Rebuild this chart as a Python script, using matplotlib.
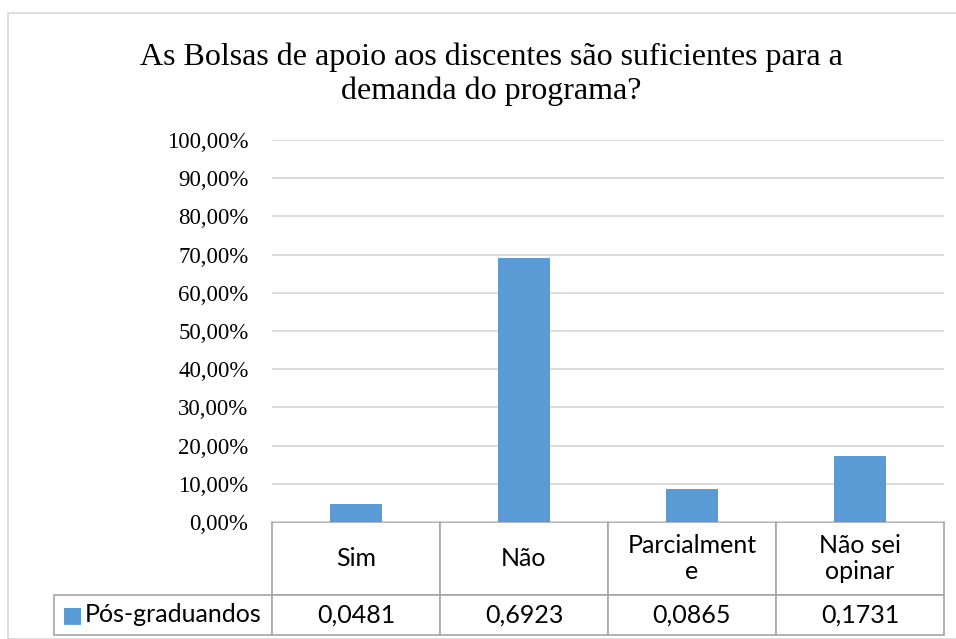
import matplotlib
matplotlib.use("Agg")
import matplotlib.pyplot as plt
from matplotlib.patches import Rectangle

categorias = ["Sim", "Não", "Parcialment\ne", "Não sei\nopinar"]
valores = [0.0481, 0.6923, 0.0865, 0.1731]
rotulos_tabela = ["0,0481", "0,6923", "0,0865", "0,1731"]
serie = "Pós-graduandos"
ticks = [i / 10 for i in range(11)]
tick_labels = ["%d,00%%" % (i * 10) for i in range(11)]

azul = "#5B9BD5"
cinza_grade = "#D9D9D9"
cinza_tabela = "#A6A6A6"

W, H = 956, 639
fig = plt.figure(figsize=(W / 100, H / 100), dpi=100)

# moldura do grafico
fig.patches.append(Rectangle((8 / W, 0), 1.0, 1 - 13 / H, transform=fig.transFigure,
                             fill=False, edgecolor=cinza_grade, lw=1.2))

ax = fig.add_axes([272 / W, 1 - 522 / H, 672 / W, 382 / H])
x = range(len(valores))
ax.bar(x, valores, width=0.315, color=azul, zorder=3)
ax.set_xlim(-0.5, 3.5)
ax.set_ylim(0, 1)
ax.set_yticks(ticks)
ax.set_yticklabels(tick_labels, family="Liberation Serif", fontsize=16.5)
ax.tick_params(axis="y", length=0, pad=17)
ax.set_xticks([])
ax.grid(axis="y", color=cinza_grade, lw=1.3, zorder=0)
for s in ax.spines.values():
    s.set_visible(False)

fig.text(491 / W, 1 - 74 / H,
         "As Bolsas de apoio aos discentes são suficientes para a\ndemanda do programa?",
         ha="center", va="center", family="Liberation Serif", fontsize=23, linespacing=1.2)

# tabela de dados: primeira coluna = rotulo da serie, canto superior sem borda
linhas = [[""] + categorias, [serie] + rotulos_tabela]
larg = [218] + [168] * len(categorias)
tab = ax.table(cellText=linhas, cellLoc="center",
               bbox=[(54 - 272) / 672, (522 - 635) / 382, (944 - 54) / 672, (635 - 522) / 382])
tab.auto_set_font_size(False)
for (r, c), cell in tab.get_celld().items():
    cell.set_edgecolor(cinza_tabela)
    cell.set_linewidth(1.2)
    cell.set_width(larg[c] / 672)
    cell.set_height((73 if r == 0 else 40) / 382)
    cell.get_text().set_fontfamily("Lato")
    cell.get_text().set_fontsize(18)
    cell.get_text().set_linespacing(1.2)
    if c == 0:
        cell.set_text_props(ha="left")
        cell.PAD = 0.142
tab[0, 0].visible_edges = ""

ax.text((62 - 272) / 672, (522 - 615) / 382, "■", color=azul, transform=ax.transAxes,
        ha="left", va="center", fontsize=16, family="DejaVu Sans")

fig.savefig("out.png", dpi=100)
